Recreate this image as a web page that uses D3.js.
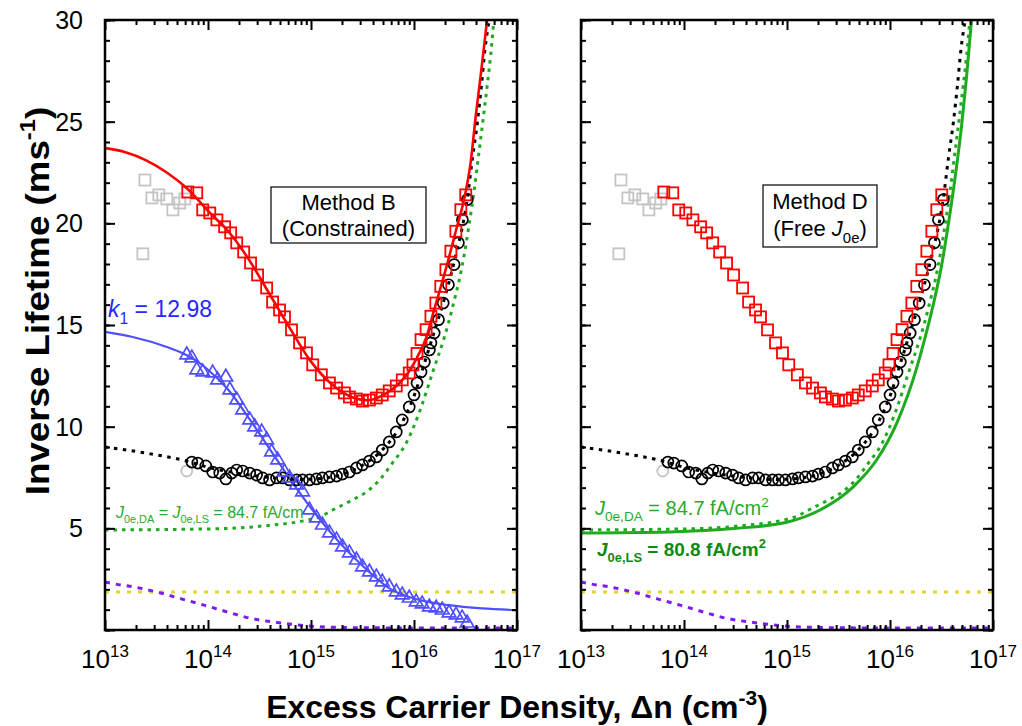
<!DOCTYPE html>
<html><head><meta charset="utf-8">
<script src="https://cdn.jsdelivr.net/npm/d3@7/dist/d3.min.js"></script>
<style>
body{margin:0;background:#fff}
text{font-family:"Liberation Sans",Arial,Helvetica,sans-serif}
</style>
</head><body>
<svg id="chart" width="1022" height="726"></svg>
<script>
// ---------------- DATA ----------------
const xTickExps = [13, 14, 15, 16, 17];
const yTickLabels = [5, 10, 15, 20, 25, 30];

// Measured points (Δn in cm^-3, inverse lifetime in ms^-1)
const squaresDn = [6.37e13,7.78e13,8.89e13,1.04e14,1.22e14,1.45e14,1.66e14,1.90e14,2.22e14,2.59e14,3.03e14,3.71e14,4.24e14,4.95e14,5.53e14,6.47e14,7.74e14,9.04e14,1.04e15,1.26e15,1.51e15,1.77e15,2.11e15,2.36e15,2.76e15,3.16e15,3.69e15,4.31e15,4.92e15,5.75e15,6.73e15,7.69e15,8.99e15,9.77e15,1.07e16,1.17e16,1.31e16,1.46e16,1.63e16,1.82e16,2.04e16,2.28e16,2.55e16,2.85e16,3.18e16];
const squaresInv = [21.54,21.50,20.66,20.51,20.17,19.83,19.53,19.04,18.59,18.05,17.46,16.82,16.13,15.74,15.40,14.76,14.12,13.63,13.04,12.55,12.15,11.90,11.66,11.46,11.36,11.26,11.31,11.41,11.56,11.76,12.00,12.30,12.64,13.04,13.60,14.28,14.77,15.43,16.08,16.90,17.72,18.63,19.61,20.67,21.40];

const circlesDn = [6.97e13,7.96e13,9.51e13,1.11e14,1.30e14,1.49e14,1.70e14,1.90e14,2.17e14,2.54e14,2.96e14,3.39e14,3.96e14,4.63e14,5.30e14,6.19e14,7.24e14,8.28e14,9.66e14,1.13e15,1.29e15,1.51e15,1.77e15,2.02e15,2.36e15,2.76e15,3.16e15,3.69e15,4.31e15,4.92e15,5.75e15,6.73e15,7.69e15,8.99e15,1.00e16,1.07e16,1.17e16,1.26e16,1.41e16,1.46e16,1.57e16,1.73e16,1.92e16,2.16e16,2.45e16,2.70e16,2.95e16,3.30e16];
const circlesInv = [8.26,8.21,8.07,7.77,7.72,7.43,7.72,7.87,7.82,7.72,7.62,7.48,7.38,7.48,7.48,7.38,7.38,7.38,7.38,7.43,7.48,7.53,7.57,7.67,7.77,7.97,8.12,8.31,8.51,8.85,9.25,9.74,10.33,10.97,11.56,12.15,12.69,13.18,13.77,14.12,14.61,15.26,16.08,16.98,17.97,19.04,20.18,21.17];

const trianglesDn = [6.22e13,6.97e13,7.78e13,8.89e13,1.11e14,1.24e14,1.49e14,1.63e14,1.90e14,2.17e14,2.54e14,2.84e14,3.32e14,3.71e14,4.14e14,4.74e14,5.53e14,6.19e14,7.24e14,8.28e14,9.66e14,1.13e15,1.29e15,1.51e15,1.77e15,2.02e15,2.36e15,2.76e15,3.16e15,3.69e15,4.31e15,4.92e15,5.75e15,6.73e15,7.69e15,8.99e15,1.05e16,1.20e16,1.41e16,1.64e16,1.88e16,2.19e16,2.56e16,2.93e16,3.28e16];
const trianglesInv = [13.53,13.38,12.79,12.69,12.64,12.30,12.44,11.81,11.31,10.82,10.33,9.99,9.74,9.35,8.76,8.36,7.77,7.48,7.13,6.79,5.90,5.51,5.16,4.77,4.43,4.08,3.79,3.44,3.10,2.85,2.61,2.36,2.12,1.87,1.72,1.57,1.38,1.28,1.13,1.08,0.98,0.84,0.74,0.59,0.34];

const graySqDn = [2.44e13,2.85e13,3.33e13,3.98e13,4.56e13,5.32e13,5.96e13,2.33e13];
const graySqInv = [22.13,21.25,21.40,21.20,20.66,21.00,21.20,18.50];
const grayCircDn = [6.22e13];
const grayCircInv = [7.82];

// Fitted curves
const redFitDn = [1e13,1.58e13,2.51e13,3.98e13,6.31e13,1.05e14,1.58e14,2.51e14,3.98e14,6.31e14,1e15,1.58e15,2.51e15,3.55e15,5.01e15,7.08e15,8.91e15,1.07e16,1.31e16,1.58e16,2.00e16,2.51e16,3.16e16,3.55e16,3.98e16,4.47e16,5.15e16];
const redFitInv = [23.7,23.5,23.1,22.5,21.7,20.5,19.6,18.2,16.5,14.8,13.2,12.1,11.45,11.3,11.55,12.1,12.7,13.4,14.36,15.8,17.6,19.5,21.5,23.0,25.3,27.4,30.1];

const blackFitDn = [1e13,2.51e13,6.31e13,1e14,2e14,3.98e14,7.94e14,1.26e15,2e15,3.16e15,5.01e15,6.31e15,7.94e15,1e16,1.26e16,1.58e16,2e16,2.51e16,3.31e16,3.69e16,4.13e16,4.52e16,4.90e16,5.37e16];
const blackFitInv = [9.0,8.7,8.3,8.0,7.7,7.5,7.4,7.45,7.65,8.1,8.9,9.5,10.35,11.5,13.1,14.7,16.4,18.3,21.3,23.2,25.0,26.8,28.6,30.0];

const greenDADn = [1e13,1e14,3.16e14,1.2e15,1.62e15,2.51e15,3.47e15,4.57e15,6.17e15,8.41e15,1.12e16,1.51e16,1.96e16,2.19e16,2.45e16,2.74e16,3.07e16,3.43e16,3.83e16,4.29e16,4.79e16,5.15e16,5.56e16,5.96e16];
const greenDAInv = [4.92,4.97,5.1,5.56,5.9,6.39,6.8,7.35,8.21,9.2,10.67,12.64,14.36,15.2,16.18,17.17,18.46,19.94,21.6,23.56,25.5,26.82,28.3,30.0];

const greenLSDn = [1e13,7.24e13,3.24e14,1e15,2.09e15,4.37e15,7.41e15,1.17e16,1.82e16,2.10e16,2.63e16,3.18e16,3.68e16,4.28e16,4.97e16,5.56e16,6.21e16];
const greenLSInv = [4.77,4.82,5.0,5.3,5.9,7.03,8.36,10.2,12.9,14.03,16.0,17.97,19.94,22.23,24.86,27.3,30.1];

const blueFitDn = [1e13,1.86e13,3.98e13,5.75e13,7.94e13,1e14,1.58e14,2.51e14,3.98e14,6.31e14,1e15,1.58e15,2.51e15,3.98e15,5.75e15,1e16,2.19e16,4.57e16,1e17];
const blueFitInv = [14.66,14.41,13.92,13.6,13.2,12.8,11.8,10.4,8.9,7.4,6.0,4.75,3.65,2.7,2.05,1.55,1.22,1.06,0.98];

const purpleDn = [1e13,1.26e13,2.09e13,3.47e13,5.62e13,9.33e13,1.51e14,2.51e14,5.25e14,1.12e15,3.16e15,1e16,1e17];
const purpleInv = [2.36,2.26,2.08,1.82,1.52,1.21,0.9,0.59,0.34,0.17,0.11,0.1,0.1];

const yellowDn = [1e13, 1e17];
const yellowInv = [1.87, 1.87];

// ---------------- LAYOUT ----------------
const svg = d3.select("#chart");
const Y0 = 630, Y1 = 20;
const y = d3.scaleLinear().domain([0, 30]).range([Y0, Y1]);
const panels = [
  { x0: 105, x1: 517, id: "L" },
  { x0: 581, x1: 993, id: "R" }
];

const C = {
  red: "#ff0000", black: "#000000", blue: "#4f4fff", blueText: "#2626ff",
  greenDot: "#1faa1f", greenText: "#2aaa2a", greenDark: "#118a11",
  purple: "#7d1cf0", yellow: "#e3d52c", gray: "#c4c4c4"
};

function zip(a, b) { return a.map((d, i) => [d, b[i]]); }

function rich(g, x, yy, parts, size, attrs) {
  const t = g.append("text").attr("x", x).attr("y", yy).attr("font-size", size);
  for (const k in (attrs || {})) t.attr(k, attrs[k]);
  let off = 0;
  parts.forEach(p => {
    const target = p.sub ? size * 0.32 : p.sup ? -size * 0.42 : 0;
    const s = t.append("tspan").text(p.t);
    if (target - off !== 0) s.attr("dy", target - off);
    off = target;
    if (p.sub || p.sup) s.attr("font-size", size * 0.68);
    if (p.it) s.attr("font-style", "italic");
  });
  return t;
}

panels.forEach((P, pi) => {
  const x = d3.scaleLog().domain([1e13, 1e17]).range([P.x0, P.x1]);
  const g = svg.append("g");
  const clipId = "clip" + P.id;
  svg.append("clipPath").attr("id", clipId).append("rect")
    .attr("x", P.x0).attr("y", Y1).attr("width", P.x1 - P.x0).attr("height", Y0 - Y1);
  const plot = g.append("g").attr("clip-path", `url(#${clipId})`);
  const line = d3.line().x(d => x(d[0])).y(d => y(d[1])).curve(d3.curveMonotoneX);

  function curve(dn, inv, color, width, dash) {
    const p = plot.append("path").datum(zip(dn, inv)).attr("d", line)
      .attr("fill", "none").attr("stroke", color).attr("stroke-width", width);
    if (dash) p.attr("stroke-dasharray", dash);
    return p;
  }

  curve(yellowDn, yellowInv, C.yellow, 3, "4,7");
  curve(purpleDn, purpleInv, C.purple, 3, "5,6");

  if (pi === 0) {
    rich(g, 116, 518, [
      { t: "J", it: true }, { t: "0e,DA", sub: true }, { t: " = " },
      { t: "J", it: true }, { t: "0e,LS", sub: true }, { t: " = 84.7 fA/cm" }
    ], 16, { fill: C.greenText });
  } else {
    rich(g, 595, 515, [
      { t: "J", it: true }, { t: "0e,DA", sub: true }, { t: " = 84.7 fA/cm" }, { t: "2", sup: true }
    ], 20, { fill: C.greenText });
    rich(g, 597, 556, [
      { t: "J", it: true }, { t: "0e,LS", sub: true }, { t: " = 80.8 fA/cm" }, { t: "2", sup: true }
    ], 19, { fill: C.greenDark, "font-weight": "bold" });
  }

  curve(greenDADn, greenDAInv, C.greenDot, 3, "3.5,5");
  curve(blackFitDn, blackFitInv, C.black, 3, "3.5,5.5");
  if (pi === 0) {
    curve(blueFitDn, blueFitInv, C.blue, 2.2);
  } else {
    curve(greenLSDn, greenLSInv, C.greenDot, 3);
  }

  plot.selectAll(".gsq").data(zip(graySqDn, graySqInv)).join("rect")
    .attr("x", d => x(d[0]) - 5.5).attr("y", d => y(d[1]) - 5.5)
    .attr("width", 11).attr("height", 11)
    .attr("fill", "none").attr("stroke", C.gray).attr("stroke-width", 1.8);
  plot.selectAll(".gci").data(zip(grayCircDn, grayCircInv)).join("circle")
    .attr("cx", d => x(d[0])).attr("cy", d => y(d[1])).attr("r", 5.5)
    .attr("fill", "none").attr("stroke", C.gray).attr("stroke-width", 1.8);

  plot.selectAll(".ci").data(zip(circlesDn, circlesInv)).join("circle")
    .attr("cx", d => x(d[0])).attr("cy", d => y(d[1])).attr("r", 5.5)
    .attr("fill", "none").attr("stroke", C.black).attr("stroke-width", 1.7);
  plot.selectAll(".sq").data(zip(squaresDn, squaresInv)).join("rect")
    .attr("x", d => x(d[0]) - 5.5).attr("y", d => y(d[1]) - 5.5)
    .attr("width", 11).attr("height", 11)
    .attr("fill", "none").attr("stroke", C.red).attr("stroke-width", 1.8);

  if (pi === 0) {
    curve(redFitDn, redFitInv, C.red, 2.6);
    const tri = d3.symbol().type(d3.symbolTriangle).size(80);
    plot.selectAll(".tr").data(zip(trianglesDn, trianglesInv)).join("path")
      .attr("d", tri).attr("transform", d => `translate(${x(d[0])},${y(d[1])})`)
      .attr("fill", "none").attr("stroke", C.blue).attr("stroke-width", 1.7);
  }

  // ---------- axes ----------
  const majorX = xTickExps.map(e => Math.pow(10, e));
  const minorX = x.ticks().filter(v => Math.abs(Math.log10(v) - Math.round(Math.log10(v))) > 1e-6);
  const minorY = d3.range(0, 31, 1);
  const majorY = d3.range(0, 31, 5);

  function styleAxis(sel) {
    sel.select(".domain").remove();
    sel.selectAll(".tick line").attr("stroke", "#000").attr("stroke-width", 2);
    sel.selectAll(".tick text").remove();
  }
  g.append("g").attr("transform", `translate(0,${Y0})`)
    .call(d3.axisBottom(x).tickValues(minorX).tickSize(-5).tickFormat("")).call(styleAxis);
  g.append("g").attr("transform", `translate(0,${Y0})`)
    .call(d3.axisBottom(x).tickValues(majorX).tickSize(-10).tickFormat("")).call(styleAxis);
  g.append("g").attr("transform", `translate(0,${Y1})`)
    .call(d3.axisTop(x).tickValues(minorX).tickSize(-5).tickFormat("")).call(styleAxis);
  g.append("g").attr("transform", `translate(0,${Y1})`)
    .call(d3.axisTop(x).tickValues(majorX).tickSize(-10).tickFormat("")).call(styleAxis);
  g.append("g").attr("transform", `translate(${P.x0},0)`)
    .call(d3.axisLeft(y).tickValues(minorY).tickSize(-5).tickFormat("")).call(styleAxis);
  g.append("g").attr("transform", `translate(${P.x0},0)`)
    .call(d3.axisLeft(y).tickValues(majorY).tickSize(-10).tickFormat("")).call(styleAxis);
  g.append("g").attr("transform", `translate(${P.x1},0)`)
    .call(d3.axisRight(y).tickValues(minorY).tickSize(-5).tickFormat("")).call(styleAxis);
  g.append("g").attr("transform", `translate(${P.x1},0)`)
    .call(d3.axisRight(y).tickValues(majorY).tickSize(-10).tickFormat("")).call(styleAxis);

  g.append("rect").attr("x", P.x0).attr("y", Y1).attr("width", P.x1 - P.x0).attr("height", Y0 - Y1)
    .attr("fill", "none").attr("stroke", "#000").attr("stroke-width", 2.5);

  xTickExps.forEach(e => {
    const t = g.append("text").attr("x", x(Math.pow(10, e))).attr("y", 668)
      .attr("text-anchor", "middle").attr("font-size", 26).attr("fill", "#000");
    t.append("tspan").text("10");
    t.append("tspan").text(String(e)).attr("font-size", 17).attr("dy", -11);
  });

  if (pi === 0) {
    yTickLabels.forEach(v => {
      g.append("text").attr("x", 83).attr("y", y(v)).attr("dy", "0.36em")
        .attr("text-anchor", "end").attr("font-size", 25).attr("fill", "#000").text(v);
    });
    rich(g, 108, 317, [{ t: "k", it: true }, { t: "1", sub: true }, { t: " = 12.98" }], 23, { fill: C.blueText });
    g.append("rect").attr("x", 271).attr("y", 187).attr("width", 155).attr("height", 56)
      .attr("fill", "#fff").attr("stroke", "#000").attr("stroke-width", 1.2);
    g.append("text").attr("x", 348.5).attr("y", 210).attr("text-anchor", "middle").attr("font-size", 22).text("Method B");
    g.append("text").attr("x", 348.5).attr("y", 236).attr("text-anchor", "middle").attr("font-size", 22).text("(Constrained)");
  } else {
    g.append("rect").attr("x", 763).attr("y", 185).attr("width", 114).attr("height", 62)
      .attr("fill", "#fff").attr("stroke", "#000").attr("stroke-width", 1.2);
    g.append("text").attr("x", 820).attr("y", 209).attr("text-anchor", "middle").attr("font-size", 22).text("Method D");
    rich(g, 820, 236, [{ t: "(Free " }, { t: "J", it: true }, { t: "0e", sub: true }, { t: ")" }], 22, { "text-anchor": "middle" });
  }
});

const xt = svg.append("text").attr("x", 517).attr("y", 718).attr("text-anchor", "middle")
  .attr("font-size", 32).attr("font-weight", "bold");
xt.append("tspan").text("Excess Carrier Density, \u0394n (cm");
xt.append("tspan").text("-3").attr("font-size", 21).attr("dy", -13);
xt.append("tspan").text(")").attr("dy", 13);

const yt = svg.append("text").attr("transform", "translate(49,301) rotate(-90) scale(1.08,1)")
  .attr("text-anchor", "middle").attr("font-size", 34).attr("font-weight", "bold");
yt.append("tspan").text("Inverse Lifetime (ms");
yt.append("tspan").text("-1").attr("font-size", 22).attr("dy", -14);
yt.append("tspan").text(")").attr("dy", 14);
</script>
</body></html>
